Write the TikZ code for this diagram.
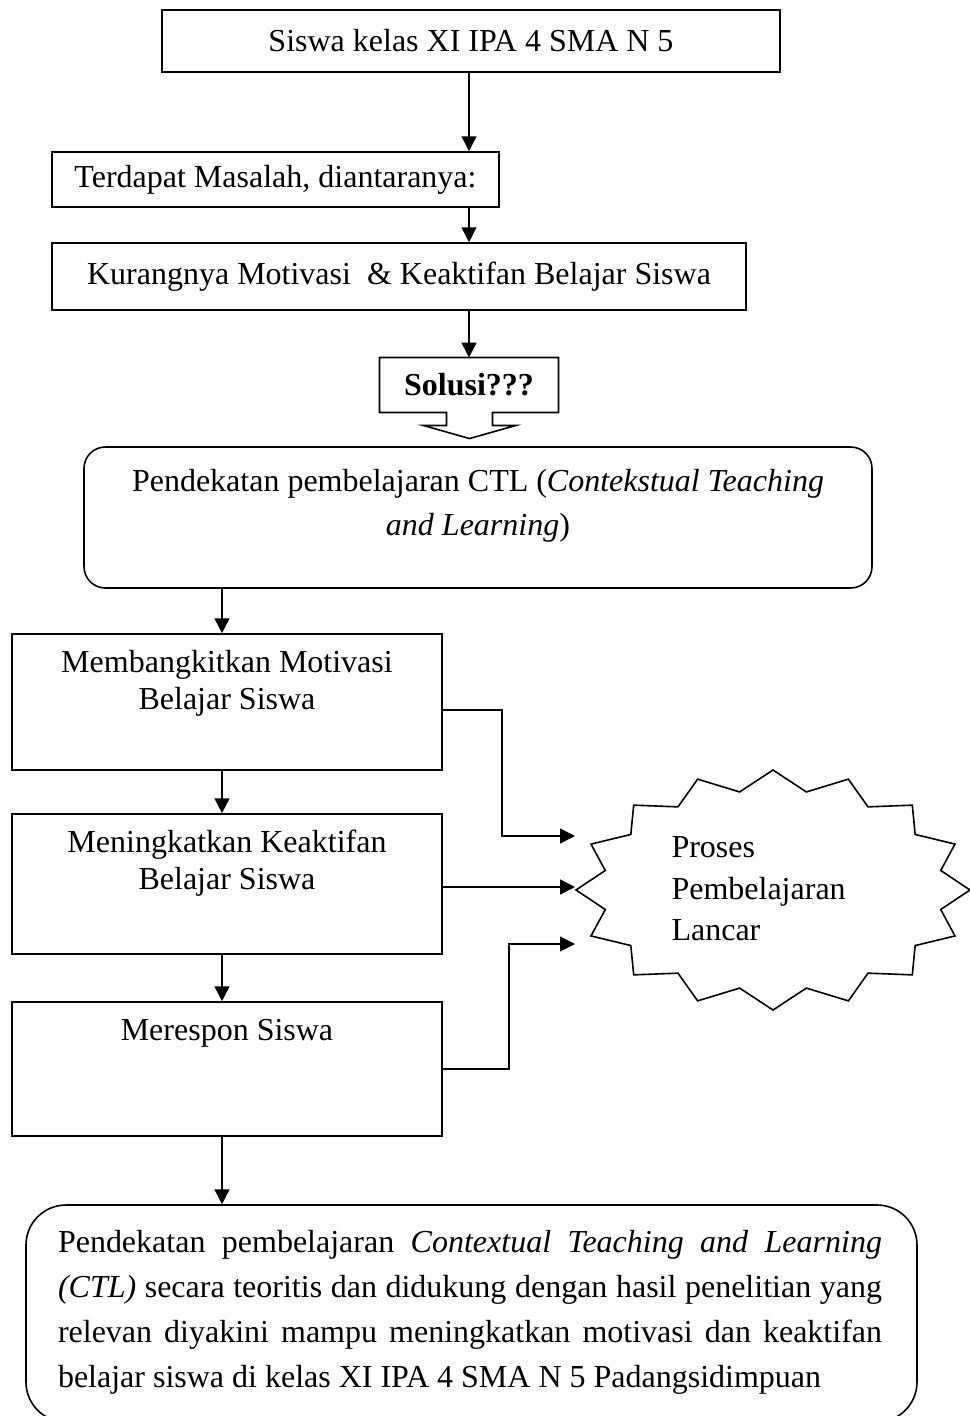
\documentclass[tikz,border=0pt]{standalone}
\usepackage{fontspec}
\setmainfont{Liberation Serif}
\usetikzlibrary{arrows.meta,fit,calc}
\begin{document}
\begin{tikzpicture}[x=0.375pt,y=-0.375pt,
  every node/.style={font=\fontsize{12pt}{14pt}\selectfont},
  boxst/.style={draw, line width=0.6pt, inner sep=0pt},
  rbox/.style={boxst, rounded corners=8pt},
  arr/.style={line width=0.6pt, -{Triangle[length=5.6pt,width=5.6pt]}},
  txt/.style={inner sep=0pt, align=center}]
\useasboundingbox (0,0) rectangle (970,1416);

% top column
\node[boxst, fit={(162,10) (780,72)}, label={[inner sep=0pt]center:Siswa kelas XI IPA 4 SMA N 5}] (b1) {};
\node[boxst, fit={(52,152) (499,207)}, label={[inner sep=0pt]center:Terdapat Masalah, diantaranya:}] (b2) {};
\node[boxst, fit={(52,243) (746,310)}, label={[inner sep=0pt]center:Kurangnya Motivasi\ \ \& Keaktifan Belajar Siswa}] (b3) {};
\node[inner sep=0pt, fit={(380,358) (558,412)}, label={[inner sep=0pt, font=\fontsize{12pt}{14pt}\selectfont\bfseries]center:Solusi???}] (sol) {};
\draw[line width=0.6pt, line join=miter] (sol.south west) -- (sol.north west) -- (sol.north east) -- (sol.south east)
  -- ++(-66,0) -- ++(0,13) -- ++(23,0) -- ++(-46,13) -- ++(-46,-13) -- ++(23,0) -- ++(0,-13) -- cycle;

\draw[arr] (b1.south -| sol.center) -- (b2.north -| sol.center);
\draw[arr] (b2.south -| sol.center) -- (b3.north -| sol.center);
\draw[arr] (b3.south -| sol.center) -- (sol.north);

% CTL box
\node[rbox, fit={(84,447) (872,588)}] (ctl) {};
\node[txt, font=\fontsize{12pt}{16.5pt}\selectfont] (ctlt) at (478,506)
  {Pendekatan pembelajaran CTL (\textit{Contekstual Teaching}\\\textit{and Learning})};

% left column
\coordinate (ls) at (222,0);
\node[boxst, fit={(12,634) (442,770)}] (m1) {};
\node[txt, font=\fontsize{12pt}{13.9pt}\selectfont] (m1t) at (227,683) {Membangkitkan Motivasi\\Belajar Siswa};
\node[boxst, fit={(12,814) (442,954)}] (m2) {};
\node[txt, font=\fontsize{12pt}{13.9pt}\selectfont] (m2t) at (227,863) {Meningkatkan Keaktifan\\Belajar Siswa};
\node[boxst, fit={(12,1002) (442,1136)}] (m3) {};
\node[txt] (m3t) at (227,1033) {Merespon Siswa};
\node[boxst, rounded corners=15pt, fit={(26,1205) (917,1422)}] (fin) {};
\node[inner sep=0pt] (fint) at (470,1312) {\parbox{309pt}{\fontsize{12pt}{16.9pt}\selectfont
  \hyphenpenalty=10000 \exhyphenpenalty=10000 \parindent=0pt
  Pendekatan pembelajaran \textit{Contextual Teaching and Learning}\linebreak
  \textit{(CTL)} secara teoritis dan didukung dengan hasil penelitian yang\linebreak
  relevan diyakini mampu meningkatkan motivasi dan keaktifan\linebreak
  belajar siswa di kelas XI IPA 4 SMA N 5 Padangsidimpuan}};

\draw[arr] (ctl.south -| ls) -- (m1.north -| ls);
\draw[arr] (m1.south -| ls) -- (m2.north -| ls);
\draw[arr] (m2.south -| ls) -- (m3.north -| ls);
\draw[arr] (m3.south -| ls) -- (fin.north -| ls);

% star
\draw[line width=0.6pt, line join=miter] (970,890)
  \foreach \k in {0,...,15}{
    -- ({773+171*cos(\k*22.5+11.25)},{890+100*sin(\k*22.5+11.25)})
    -- ({773+197*cos(\k*22.5+22.5)},{890+120*sin(\k*22.5+22.5)})
  } -- cycle;
\node[inner sep=0pt, align=left, anchor=west, font=\fontsize{12pt}{15.6pt}\selectfont] (star) at (671,889)
  {Proses\\Pembelajaran\\Lancar};

\coordinate (t1) at (575,836);
\coordinate (t2) at (575,887);
\coordinate (t3) at (575,944);
\draw[arr] ([yshift=-3pt]m1.east) -- ++(59,0) |- (t1);
\draw[arr] (m2.east |- t2) -- (t2);
\draw[arr] (m3.east) -- ++(66,0) |- (t3);
\end{tikzpicture}
\end{document}
